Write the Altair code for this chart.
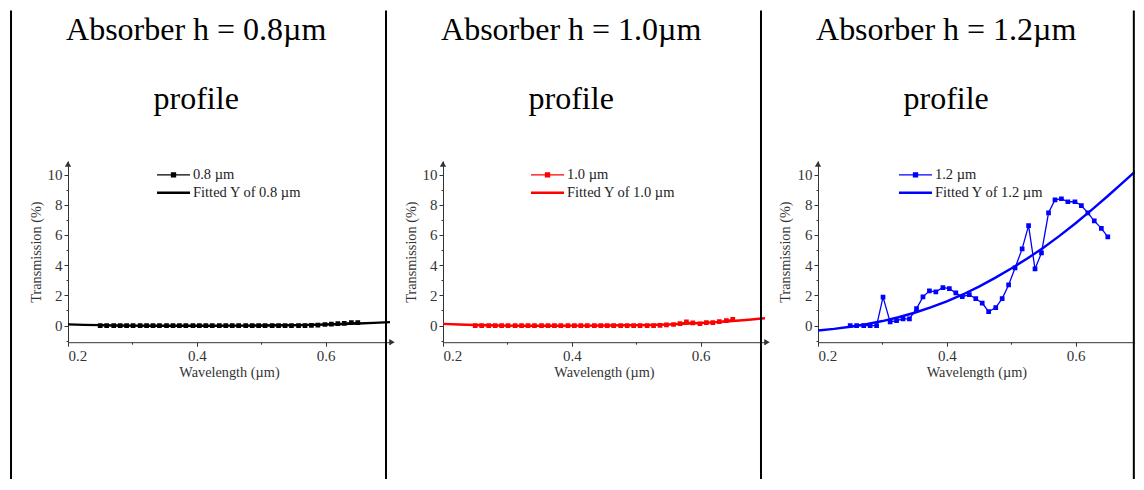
import altair as alt
import pandas as pd

# ---------------- data ----------------
wavelength = [0.250, 0.260, 0.271, 0.281, 0.291, 0.301, 0.312, 0.322, 0.332, 0.342,
              0.353, 0.363, 0.373, 0.383, 0.394, 0.404, 0.414, 0.424, 0.435, 0.445,
              0.455, 0.465, 0.476, 0.486, 0.496, 0.506, 0.517, 0.527, 0.537, 0.547,
              0.558, 0.568, 0.578, 0.588, 0.599, 0.609, 0.619, 0.629, 0.640, 0.650]

t_08 = [0.00, 0.00, 0.00, 0.00, 0.00, 0.00, 0.00, 0.00, 0.00, 0.00,
        0.00, 0.00, 0.00, 0.00, 0.00, 0.00, 0.00, 0.00, 0.00, 0.00,
        0.00, 0.00, 0.00, 0.00, 0.00, 0.00, 0.00, 0.00, 0.00, 0.00,
        0.00, 0.00, 0.01, 0.03, 0.07, 0.10, 0.13, 0.15, 0.20, 0.20]

t_10 = [0.00, 0.00, 0.00, 0.00, 0.00, 0.00, 0.00, 0.00, 0.00, 0.00,
        0.00, 0.00, 0.00, 0.00, 0.00, 0.00, 0.00, 0.00, 0.00, 0.00,
        0.00, 0.00, 0.00, 0.00, 0.00, 0.00, 0.00, 0.00, 0.01, 0.05,
        0.07, 0.13, 0.25, 0.18, 0.12, 0.19, 0.20, 0.26, 0.33, 0.42]

t_12 = [0.00, 0.00, 0.00, 0.00, 0.00, 1.88, 0.24, 0.33, 0.44, 0.44,
        1.12, 1.90, 2.30, 2.23, 2.52, 2.45, 2.16, 1.91, 2.05, 1.78,
        1.49, 0.92, 1.19, 1.79, 2.69, 3.82, 5.08, 6.62, 3.75, 4.81,
        7.47, 8.32, 8.40, 8.20, 8.20, 7.95, 7.46, 6.93, 6.44, 5.87]

fit_wl = [0.200, 0.225, 0.250, 0.275, 0.300, 0.325, 0.350, 0.375, 0.400, 0.425,
          0.450, 0.475, 0.500, 0.525, 0.550, 0.575, 0.600, 0.625, 0.650, 0.675, 0.700]

fit_08 = [0.08, 0.05, 0.03, 0.01, 0.00, -0.01, -0.01, -0.01, -0.01, -0.01,
          0.00, 0.00, 0.01, 0.02, 0.03, 0.05, 0.07, 0.10, 0.14, 0.18, 0.23]

fit_10 = [0.11, 0.07, 0.04, 0.02, 0.00, -0.01, -0.01, -0.01, 0.00, 0.00,
          0.01, 0.02, 0.03, 0.05, 0.08, 0.12, 0.17, 0.23, 0.30, 0.39, 0.49]

fit_12 = [-0.33, -0.22, -0.08, 0.09, 0.30, 0.55, 0.85, 1.20, 1.60, 2.06,
          2.58, 3.16, 3.78, 4.44, 5.16, 5.94, 6.78, 7.66, 8.58, 9.53, 10.50]

heights = ["0.8", "1.0", "1.2"]
colors = ["#000000", "#ff0000", "#0000ff"]
measured = [t_08, t_10, t_12]
fitted = [fit_08, fit_10, fit_12]
legend_x = [89, 88, 81]
x_max = [0.7, 0.7, 0.692]

x_ticks = [0.2, 0.3, 0.4, 0.5, 0.6, 0.7]
y_ticks = [-1, 0, 1, 2, 3, 4, 5, 6, 7, 8, 9, 10]

# ---------------- styling ----------------
FONT = "Liberation Serif"
AX = "#333333"
PX_PER_UNIT_X = 644.0
H = 181.2
RULE_TOP, RULE_BOTTOM = -150.4, 318
PATH_MEAS = "M-1,-0.04H1V0.04H-1Z M-0.16,-0.16H0.16V0.16H-0.16Z"
PATH_FIT = "M-1,-0.08H1V0.08H-1Z"


def x_axis(ticks):
    return alt.Axis(
        values=ticks,
        labelExpr="round(datum.value*10) % 2 == 0 ? format(datum.value, '.1f') : ''",
        tickSize={"condition": {"test": "round(datum.value*10) % 2 == 0", "value": 4}, "value": 2},
        title="Wavelength (µm)", grid=False,
        domainColor=AX, tickColor=AX, labelColor=AX, titleColor=AX,
        labelFont=FONT, labelFontSize=15, titleFont=FONT, titleFontSize=14.3,
        titleFontWeight="normal", labelPadding=2, titlePadding=2,
    )


y_axis = alt.Axis(
    values=y_ticks,
    labelExpr="(datum.value % 2 == 0 && datum.value >= 0) ? format(datum.value, 'd') : ''",
    tickSize={"condition": {"test": "datum.value % 2 == 0", "value": 4}, "value": 2},
    title="Transmission (%)", grid=False,
    domainColor=AX, tickColor=AX, labelColor=AX, titleColor=AX,
    labelFont=FONT, labelFontSize=15, titleFont=FONT, titleFontSize=14.3,
    titleFontWeight="normal", labelPadding=2, titlePadding=4,
)


def panel(i):
    h, color = heights[i], colors[i]
    w = (x_max[i] - 0.2) * PX_PER_UNIT_X
    s_meas = f"{h} µm"
    s_fit = f"Fitted Y of {h} µm"
    dm = pd.DataFrame({"wl": wavelength, "T": measured[i], "series": s_meas})
    dfit = pd.DataFrame({"wl": fit_wl, "T": fitted[i], "series": s_fit})

    ticks = [t for t in x_ticks if t <= x_max[i] + 1e-9]
    x = alt.X("wl:Q", scale=alt.Scale(domain=[0.2, x_max[i]], nice=False, zero=False),
              axis=x_axis(ticks))
    y = alt.Y("T:Q", scale=alt.Scale(domain=[-1.1, 10.9], nice=False, zero=False), axis=y_axis)

    line = alt.Chart(dm).mark_line(color=color, strokeWidth=1.3, clip=True).encode(x=x, y=y)
    pts = alt.Chart(dm).mark_point(shape="square", filled=True, size=22, color=color,
                                   opacity=1, clip=True).encode(x=x, y=y)
    fit = alt.Chart(dfit).mark_line(color=color, strokeWidth=2.4, clip=True).encode(x=x, y=y)
    leg = alt.Chart(pd.concat([dm, dfit])).mark_point(filled=True, color=color, opacity=0,
                                                      clip=True).encode(
        x=x, y=y,
        shape=alt.Shape("series:N",
                        scale=alt.Scale(domain=[s_meas, s_fit], range=[PATH_MEAS, PATH_FIT]),
                        legend=alt.Legend(
                            orient="none", legendX=legend_x[i], legendY=5.8, title=None,
                            padding=0, clipHeight=16, rowPadding=2, symbolSize=1089,
                            symbolFillColor=color, symbolStrokeColor=color,
                            symbolStrokeWidth=0, symbolOpacity=1, labelOffset=3,
                            labelFont=FONT, labelFontSize=14.5, labelColor="#222222",
                            labelLimit=300)),
    )

    one = pd.DataFrame({"k": [0]})
    y_arrow = alt.Chart(one).mark_point(shape="triangle-up", filled=True, size=40,
                                        color=AX, opacity=1).encode(
        x=alt.value(0), y=alt.value(3))
    sep = alt.Chart(one).mark_rule(color="black", strokeWidth=2).encode(
        x=alt.value(-57), y=alt.value(RULE_TOP), y2=alt.value(RULE_BOTTOM))
    title1 = alt.Chart(one).mark_text(
        text=f"Absorber h = {h}µm", font=FONT, fontSize=32, color="black",
        align="center", baseline="alphabetic").encode(x=alt.value(128.2), y=alt.value(-121.1))
    title2 = alt.Chart(one).mark_text(
        text="profile", font=FONT, fontSize=32, color="black",
        align="center", baseline="alphabetic").encode(x=alt.value(128.2), y=alt.value(-52.1))
    layers = [line, pts, fit, leg, y_arrow, sep, title1, title2]
    if i < 2:
        layers.append(alt.Chart(one).mark_point(shape="triangle-right", filled=True, size=40,
                                                color=AX, opacity=1).encode(
            x=alt.value(w + 2), y=alt.value(H)))
    else:
        layers.append(alt.Chart(one).mark_rule(color="black", strokeWidth=2).encode(
            x=alt.value(w - 1), y=alt.value(RULE_TOP), y2=alt.value(RULE_BOTTOM)))

    return alt.layer(*layers).properties(width=w, height=H)


chart = alt.hconcat(panel(0), panel(1), panel(2), spacing=53, bounds="flush").resolve_scale(
    x="independent", y="independent", shape="independent"
).resolve_legend(shape="independent").properties(
    padding={"left": 2, "top": 1, "right": 0, "bottom": 0}, background="white"
).configure_view(strokeWidth=0, stroke="transparent")

chart.save("out.html", embed_options={"renderer": "svg", "actions": False})
